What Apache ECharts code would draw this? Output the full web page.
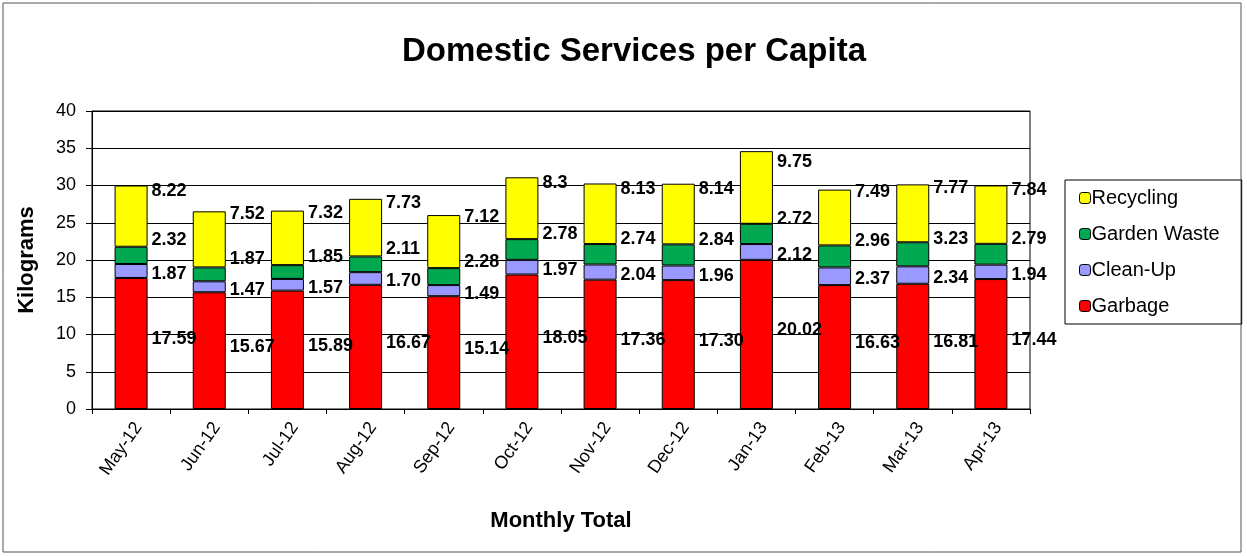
<!DOCTYPE html>
<html>
<head>
<meta charset="utf-8">
<script src="https://cdn.jsdelivr.net/npm/echarts@6/dist/echarts.min.js"></script>
<style>
  html, body { margin: 0; padding: 0; background: #fff; }
  #chart { width: 1247px; height: 556px; }
</style>
</head>
<body>
<div id="chart"></div>
<script>
var months = ['May-12','Jun-12','Jul-12','Aug-12','Sep-12','Oct-12','Nov-12','Dec-12','Jan-13','Feb-13','Mar-13','Apr-13'];
// values kept as the labels show them
var garbage = ['17.59', '15.67', '15.89', '16.67', '15.14', '18.05', '17.36', '17.30', '20.02', '16.63', '16.81', '17.44'];
var cleanUp = ['1.87', '1.47', '1.57', '1.70', '1.49', '1.97', '2.04', '1.96', '2.12', '2.37', '2.34', '1.94'];
var gardenWaste = ['2.32', '1.87', '1.85', '2.11', '2.28', '2.78', '2.74', '2.84', '2.72', '2.96', '3.23', '2.79'];
var recycling = ['8.22', '7.52', '7.32', '7.73', '7.12', '8.3', '8.13', '8.14', '9.75', '7.49', '7.77', '7.84'];
var yTicks = [0, 5, 10, 15, 20, 25, 30, 35, 40];

var FONT = 'Liberation Sans, Arial, sans-serif';
var chart = echarts.init(document.getElementById('chart'));

function makeSeries(name, data, color, offsetY) {
    return {
        name: name,
        type: 'bar',
        stack: 'total',
        barWidth: 33,
        data: data,
        itemStyle: { color: color, borderColor: '#000', borderWidth: 1 },
        label: {
            show: true,
            position: 'right',
            distance: 4,
            offset: [0, offsetY],
            color: '#000',
            fontWeight: 'bold',
            fontSize: 18,
            fontFamily: FONT,
            formatter: function (p) {
                return p.data;
            }
        }
    };
}

var option = {
    animation: false,
    textStyle: { fontFamily: FONT },
    title: {
        text: 'Domestic Services per Capita',
        left: 629,
        textAlign: 'center',
        top: 30,
        textStyle: { fontSize: 33, fontWeight: 'bold', color: '#000', fontFamily: FONT }
    },
    graphic: [{
        type: 'rect',
        shape: { x: 3, y: 3, width: 1238, height: 549 },
        style: { fill: 'none', stroke: '#555', lineWidth: 1 },
        silent: true
    }],
    legend: {
        orient: 'vertical',
        left: 1065,
        top: 180,
        padding: [8, 22, 8, 14],
        itemGap: 16,
        itemWidth: 11,
        itemHeight: 11,
        borderColor: '#000',
        borderWidth: 1,
        data: ['Recycling', 'Garden Waste', 'Clean-Up', 'Garbage'],
        textStyle: { fontSize: 20, color: '#000', padding: [0, 0, 0, -4] },
        itemStyle: { borderColor: '#000', borderWidth: 1 }
    },
    grid: {
        left: 92,
        right: 217,
        top: 111,
        bottom: 147,
        show: true,
        borderColor: '#000',
        borderWidth: 1,
        containLabel: false
    },
    xAxis: {
        type: 'category',
        data: months,
        name: 'Monthly Total',
        nameLocation: 'middle',
        nameGap: 101,
        nameTextStyle: { fontSize: 22, fontWeight: 'bold', color: '#000' },
        axisLine: { lineStyle: { color: '#000' } },
        axisTick: { show: true, length: 5, lineStyle: { color: '#000' } },
        axisLabel: { rotate: 55, fontSize: 18, color: '#000', margin: 10, verticalAlign: 'top' }
    },
    yAxis: {
        type: 'value',
        min: yTicks[0],
        max: yTicks[yTicks.length - 1],
        interval: 5,
        name: 'Kilograms',
        nameLocation: 'middle',
        nameGap: 54,
        nameTextStyle: { fontSize: 22, fontWeight: 'bold', color: '#000' },
        axisLine: { show: true, lineStyle: { color: '#000' } },
        axisTick: { show: true, length: 6, lineStyle: { color: '#000' } },
        axisLabel: { fontSize: 18, color: '#000', margin: 16 },
        splitLine: { lineStyle: { color: '#000', width: 1 } }
    },
    series: [
        makeSeries('Garbage', garbage, '#FF0000', -4),
        makeSeries('Clean-Up', cleanUp, '#9999FF', 3),
        makeSeries('Garden Waste', gardenWaste, '#00A850', -15),
        makeSeries('Recycling', recycling, '#FFFF00', -25)
    ]
};

chart.setOption(option);
</script>
</body>
</html>
